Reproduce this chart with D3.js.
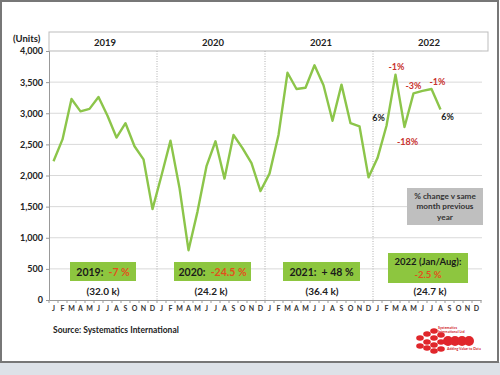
<!DOCTYPE html>
<html><head><meta charset="utf-8">
<script src="https://cdn.jsdelivr.net/npm/d3@7"></script>
<style>
html,body{margin:0;padding:0;background:#fff;}
svg{display:block;font-family:Lato,"Open Sans",sans-serif;}
</style></head>
<body><svg id="c" width="500" height="375"></svg>
<script>
const years = ["2019","2020","2021","2022"];
const monthLetters = ["J","F","M","A","M","J","J","A","S","O","N","D"];
const units2019 = [2230,2580,3230,3030,3070,3260,2960,2610,2840,2470,2260,1460];
const units2020 = [2000,2560,1800,800,1420,2150,2550,1950,2650,2440,2200,1750];
const units2021 = [2030,2650,3650,3390,3410,3770,3450,2880,3460,2840,2790,1970];
const units2022 = [2280,2800,3620,2780,3320,3360,3390,3060];
const pctChange2022 = ["","6%","-1%","-18%","-3%","","-1%","6%"];
const yTicks = [0,500,1000,1500,2000,2500,3000,3500,4000];
const summaryYear = ["2019:","2020:","2021:  + 48 %","2022 (Jan/Aug):"];
const summaryChange = ["-7 %","-24.5 %","","-2.5 %"];
const summaryTotal = ["(32.0 k)","(24.2 k)","(36.4 k)","(24.7 k)"];

const series = [].concat(units2019,units2020,units2021,units2022);
const svg = d3.select("#c");

// background frame
svg.append("rect").attr("x",0).attr("y",362).attr("width",500).attr("height",13).attr("fill","#dde2e8");
svg.append("rect").attr("x",1).attr("y",1).attr("width",497).attr("height",361)
  .attr("fill","#fff").attr("stroke","#777").attr("stroke-width",2);

const L=49, R=481, T=51, B=300;
const nMonths = years.length*12;
const x = d3.scaleBand().domain(d3.range(nMonths)).range([L,R]).paddingInner(0);
const cx = i => x(i)+x.bandwidth()/2;
const y = d3.scaleLinear().domain([0,4000]).range([B,T]);

// header box
svg.append("rect").attr("x",L).attr("y",32).attr("width",488-L).attr("height",T-32)
  .attr("fill","#fff").attr("stroke","#bdbdbd").attr("stroke-width",1);
svg.selectAll(".yr").data(years).join("text")
  .attr("x",(d,i)=>x(i*12)+x.bandwidth()*6+2).attr("y",45.5)
  .attr("text-anchor","middle").attr("font-size",9.5).attr("font-weight",700).attr("fill","#222").text(d=>d);

// grid
svg.append("g").selectAll("line").data(yTicks.filter(d=>d>0)).join("line")
  .attr("x1",L).attr("x2",R+1).attr("y1",d=>y(d)).attr("y2",d=>y(d))
  .attr("stroke","#d9d9d9").attr("stroke-width",1);
// year dividers
svg.append("g").selectAll("line").data(years.slice(1)).join("line")
  .attr("x1",(d,i)=>x((i+1)*12)).attr("x2",(d,i)=>x((i+1)*12))
  .attr("y1",T).attr("y2",B).attr("stroke","#b0b0b0").attr("stroke-dasharray","1,1.5");

// y axis
const yAxis = d3.axisLeft(y).tickValues(yTicks).tickFormat(d3.format(",")).tickSize(3);
const gy = svg.append("g").attr("transform",`translate(${L},0)`).call(yAxis);
gy.select(".domain").attr("stroke","#999");
gy.selectAll(".tick line").attr("stroke","#999");
gy.selectAll("text").attr("font-size",9).attr("font-weight",700).attr("fill","#222")
  .attr("font-family","Lato,sans-serif").attr("x",-6);
svg.append("text").attr("x",13).attr("y",42).attr("font-size",9.5).attr("font-weight",700)
  .attr("fill","#222").text("(Units)");

// x axis
const xAxis = d3.axisBottom(x).tickSize(0).tickFormat(i=>monthLetters[i%12]);
const gx = svg.append("g").attr("transform",`translate(0,${B})`).call(xAxis);
gx.select(".domain").attr("stroke","#999");
gx.selectAll("text").attr("font-size",7).attr("font-weight",700).attr("fill","#333")
  .attr("font-family","Lato,sans-serif").attr("dy","0.95em").attr("y",4);
svg.append("g").selectAll("line").data(d3.range(nMonths+1)).join("line")
  .attr("x1",i=>L+i*x.step()).attr("x2",i=>L+i*x.step()).attr("y1",B).attr("y2",B+3)
  .attr("stroke","#999");

// line
svg.append("path").datum(series)
  .attr("d",d3.line().x((d,i)=>cx(i)).y(d=>y(d)))
  .attr("fill","none").attr("stroke","#8cc54a").attr("stroke-width",2.4).attr("stroke-linejoin","round");

// % change labels
const pctOff = [null,[-8,-5],[1,-5],[3,18],[0,-4],null,[6,-4],[7,10]];
pctChange2022.forEach((t,k)=>{
  if(!t) return;
  const i = 36+k;
  svg.append("text").attr("x",cx(i)+pctOff[k][0]).attr("y",y(units2022[k])+pctOff[k][1])
    .attr("text-anchor","middle").attr("font-size",9).attr("font-weight",700)
    .attr("fill",t.startsWith("-")?"#c8322e":"#222").text(t);
});

// grey note
svg.append("rect").attr("x",407).attr("y",188).attr("width",76).attr("height",37).attr("fill","#bfbfbf");
["% change v same","month previous","year"].forEach((t,k)=>{
  svg.append("text").attr("x",445).attr("y",198.5+k*10.8).attr("text-anchor","middle")
    .attr("font-size",8.2).attr("font-weight",700).attr("fill","#333").text(t);
});

// summary boxes
const boxes = [[70,262,66,19],[174,262,77,19],[283,262,77,19],[388,253,80,30]];
summaryYear.forEach((t,k)=>{
  const b = boxes[k];
  svg.append("rect").attr("x",b[0]).attr("y",b[1]).attr("width",b[2]).attr("height",b[3]).attr("fill","#8dc63f");
  const c = b[0]+b[2]/2;
  if(k<3){
    const txt = svg.append("text").attr("x",c).attr("y",b[1]+14).attr("text-anchor","middle")
      .attr("font-size",10.5).attr("font-weight",700).attr("fill","#1a1a1a").attr("xml:space","preserve");
    txt.append("tspan").text(t);
    if(summaryChange[k]) txt.append("tspan").attr("fill","#e2501c").text("  "+summaryChange[k]);
  } else {
    svg.append("text").attr("x",c).attr("y",b[1]+12).attr("text-anchor","middle")
      .attr("font-size",9.5).attr("font-weight",700).attr("fill","#1a1a1a").text(t);
    svg.append("text").attr("x",c).attr("y",b[1]+25).attr("text-anchor","middle")
      .attr("font-size",9.5).attr("font-weight",700).attr("fill","#e2501c").text(summaryChange[k]);
  }
  svg.append("text").attr("x",x(k*12)+x.bandwidth()*6+(k>1?3:0)).attr("y",295).attr("text-anchor","middle")
    .attr("font-size",10).attr("font-weight",700).attr("fill","#222").text(summaryTotal[k]);
});

// source
svg.append("text").attr("x",53).attr("y",333).attr("font-size",8.5).attr("font-weight",700)
  .attr("fill","#222").text("Source: Systematics International");

// logo
const lg = svg.append("g").attr("transform","translate(415,328)");
const blobs = [[5,10],[12,6],[19,3],[12,14],[19,10],[26,7],[5,18],[12,20],[19,17],[26,14],[19,23],[26,21],[33,13],[40,13],[47,13],[54,13]];
blobs.forEach(([bx,by],k)=>{
  lg.append("ellipse").attr("cx",bx).attr("cy",by).attr("rx",k>=12?5:3.8).attr("ry",k>=12?5:2.8).attr("fill","#e0262b");
});
lg.append("text").attr("x",23).attr("y",1).attr("font-size",3.6).attr("font-weight",700).attr("fill","#d02028").text("Systematics");
lg.append("text").attr("x",23).attr("y",5).attr("font-size",3.6).attr("font-weight",700).attr("fill","#d02028").text("International Ltd");
lg.append("text").attr("x",32).attr("y",22).attr("font-size",3.6).attr("font-weight",700).attr("fill","#d02028").text("Adding Value to Data");
</script>
</body></html>
